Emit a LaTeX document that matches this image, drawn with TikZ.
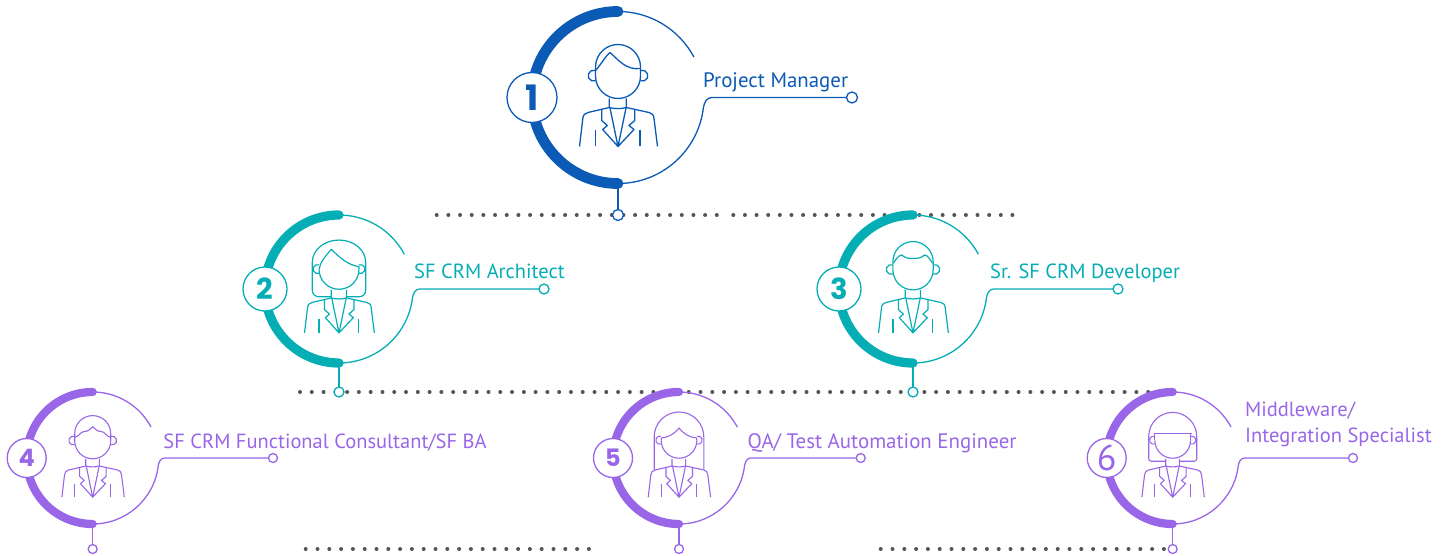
\documentclass[tikz,border=0pt]{standalone}
\usepackage{fontspec}
\setmainfont{PT Sans}
\newfontfamily\digitfont{Poppins}
\usetikzlibrary{calc,positioning}

\definecolor{bluehub}{HTML}{0B5AB5}
\definecolor{tealhub}{HTML}{05AEB5}
\definecolor{purplehub}{HTML}{9966E8}
\definecolor{dotgrey}{HTML}{555555}

\tikzstyle{hub} = [circle, inner sep=0pt, outer sep=0pt]
\tikzstyle{tip} = [draw, circle, fill=white, inner sep=0pt, outer sep=0pt, line width=1.3pt]
\tikzstyle{badge} = [draw, circle, fill=white, inner sep=0pt, outer sep=0pt, line width=1.3pt, align=center]
\tikzstyle{role} = [anchor=base west, inner sep=0pt, align=left, font=\fontsize{20.5}{25}\selectfont]
\tikzstyle{fine} = [line width=1.3pt, line join=round]
\tikzstyle{dot} = [fill=dotgrey]

% thin and thick arcs, stem and leader of one ring
\newcommand{\ringarcs}[3]{
\draw [fine,#3] (#1.north) arc (90:28:#2);
\draw [fine,#3] (#1.south) arc (-90:-7:#2) to[out=82,in=180] ([xshift=1.09*#2]#1.center) -- (#1tip);
\draw [line width=0.125*#2, line cap=round,#3] (#1.north) arc (90:270:#2);
\draw [fine,#3] (#1.south) -- (#1foot);
}

% jacket, lapels and neck of every person
\newcommand{\suit}{
\draw (-8.7,-1) -- (-8.7,-10) .. controls (-3,-11.5) and (3,-11.5) .. (8.3,-10) -- (8.3,-1);
\draw (-38.5,-49) -- (-35.2,-21) .. controls (-34.8,-17) and (-33,-16) .. (-30,-15) -- (-8.7,-10);
\draw (39.5,-49) -- (36,-21) .. controls (35.7,-17) and (34,-16) .. (31,-15) -- (8.3,-10);
\draw (-16.3,-12.5) -- (-16.3,-23) -- (-10.7,-28) -- (-15.3,-32) -- (0,-49) -- (-8,-10.5);
\draw (16.8,-12.5) -- (16.8,-23) -- (11,-28) -- (16,-32) -- (0,-49) -- (8,-10.5);
\draw (-22.3,-33) -- (-22.3,-49);
\draw (22,-33) -- (22,-49);
}
% head with the top closed, for the men
\newcommand{\malehead}{
\draw (-22.5,21.5) -- (-22.5,30.5) arc (180:0:22.5) -- (22.5,21.5) arc (0:-180:22.5);
\draw (-22.5,27) arc (70:290:5.5);
\draw (22.5,27) arc (110:-110:5.5);
}
% chin and ears, for the women
\newcommand{\femalehead}{
\draw (-22.3,22) arc (180:360:22.3);
\draw (-22.3,27) arc (70:290:5);
\draw (22.3,27) arc (110:-110:5);
}

\begin{document}
\begin{tikzpicture}[x=1pt,y=1pt]
\useasboundingbox (0,0) rectangle (1450,555);

% dotted rows
\foreach \i in {0,...,24} \fill [dot] (436.7+\i*11.67,340) circle (2);
\foreach \i in {0,...,24} \fill [dot] (733.3+\i*11.63,340) circle (2);
\foreach \i in {0,...,72} \fill [dot] (300+\i*11.78,163) circle (2);
\foreach \i in {0,...,24} \fill [dot] (305.7+\i*11.8,6) circle (2);
\foreach \i in {0,...,24} \fill [dot] (880.7+\i*11.8,6) circle (2);

\node (manager) [hub, minimum size=172] at (618,457.5) {};
\node (managertip) [xshift=234] at (manager) [tip, minimum size=11, draw=bluehub] {};
\node (managerfoot) [yshift=-117.5] at (manager) [tip, minimum size=11, draw=bluehub] {};
\ringarcs{manager}{86}{bluehub}
\node (managerbadge) at (manager.west) [badge, minimum size=50, draw=bluehub, text=bluehub] {\fontsize{35}{35}\digitfont\bfseries 1};
\node (managerrole) [xshift=85, yshift=9.5] at (manager) [role, text=bluehub, font=\fontsize{20.9}{25}\selectfont] {Project Manager};
\begin{scope}[shift={(manager.center)}, draw=bluehub, line width=1.3pt, line join=round]
\suit
\malehead
\draw (-22.5,27) .. controls (-17,33) and (-12,42) .. (-8,45) .. controls (0,38) and (8,27) .. (22.5,29);
\end{scope}

\node (architect) [hub, minimum size=148] at (339,266) {};
\node (architecttip) [xshift=205] at (architect) [tip, minimum size=10, draw=tealhub] {};
\node (architectfoot) [yshift=-103] at (architect) [tip, minimum size=10, draw=tealhub] {};
\ringarcs{architect}{74}{tealhub}
\node (architectbadge) at (architect.west) [badge, minimum size=44, draw=tealhub, text=tealhub] {\fontsize{29}{29}\digitfont\bfseries 2};
\node (architectrole) [xshift=75, yshift=11] at (architect) [role, text=tealhub] {SF CRM Architect};
\begin{scope}[shift={(architect.center)}, scale=0.895, draw=tealhub, line width=1.2pt, line join=round]
\suit
\femalehead
\draw (-8.7,-8.6) -- (-22.8,-8.6) arc (270:180:7) -- (-29.8,30) arc (180:0:29.8 and 24.7) -- (29.8,-1.6) arc (0:-90:7) -- (8.3,-8.6);
\draw (-22.3,22) .. controls (-21,30) and (-15,37) .. (-8.6,44.3) .. controls (0,36) and (9,27) .. (22.3,25) -- (22.3,22);
\end{scope}

\node (developer) [hub, minimum size=148] at (913,266) {};
\node (developertip) [xshift=205] at (developer) [tip, minimum size=10, draw=tealhub] {};
\node (developerfoot) [yshift=-103] at (developer) [tip, minimum size=10, draw=tealhub] {};
\ringarcs{developer}{74}{tealhub}
\node (developerbadge) at (developer.west) [badge, minimum size=44, draw=tealhub, text=tealhub] {\fontsize{29}{29}\digitfont\bfseries 3};
\node (developerrole) [xshift=77, yshift=11] at (developer) [role, text=tealhub] {Sr. SF CRM Developer};
\begin{scope}[shift={(developer.center)}, scale=0.895, draw=tealhub, line width=1.2pt, line join=round]
\suit
\malehead
\draw (-22,28.6) .. controls (-20,32) and (-16,38) .. (-12.7,38) .. controls (-8,34) and (-4,34) .. (0,34) .. controls (4,34) and (8,34) .. (13,38) .. controls (16,38) and (20,32) .. (22,28.6);
\end{scope}

\node (consultant) [hub, minimum size=132] at (92.7,97) {};
\node (consultanttip) [xshift=180.3] at (consultant) [tip, minimum size=9, draw=purplehub] {};
\node (consultantfoot) [yshift=-91] at (consultant) [tip, minimum size=9, draw=purplehub] {};
\ringarcs{consultant}{66}{purplehub}
\node (consultantbadge) at (consultant.west) [badge, minimum size=39, draw=purplehub, text=purplehub] {\fontsize{24}{24}\digitfont\bfseries 4};
\node (consultantrole) [xshift=70.5, yshift=10] at (consultant) [role, text=purplehub] {SF CRM Functional Consultant/SF BA};
\begin{scope}[shift={(consultant.center)}, scale=0.8, draw=purplehub, line width=1.1pt, line join=round]
\suit
\malehead
\draw (-22,26) .. controls (-17,27) and (-15,33) .. (-11,33) .. controls (-6,33) and (-3,36) .. (0,39) .. controls (3,36) and (6,33) .. (11,33) .. controls (15,33) and (17,27) .. (22,26);
\end{scope}

\node (tester) [hub, minimum size=132] at (679,97) {};
\node (testertip) [xshift=181.7] at (tester) [tip, minimum size=9, draw=purplehub] {};
\node (testerfoot) [yshift=-91] at (tester) [tip, minimum size=9, draw=purplehub] {};
\ringarcs{tester}{66}{purplehub}
\node (testerbadge) at (tester.west) [badge, minimum size=39, draw=purplehub, text=purplehub] {\fontsize{24}{24}\digitfont\bfseries 5};
\node (testerrole) [xshift=68.5, yshift=10] at (tester) [role, text=purplehub, font=\fontsize{20.9}{25}\selectfont] {QA/ Test Automation Engineer};
\begin{scope}[shift={(tester.center)}, scale=0.8, draw=purplehub, line width=1.1pt, line join=round]
\suit
\femalehead
\draw (-31,-14.6) -- (-31,26.5) arc (180:0:31) -- (31,-14.6);
\draw (-22.3,22) -- (-22,25) .. controls (-12,26) and (-5,31) .. (0,37.5) .. controls (5,31) and (12,26) .. (22,25) -- (22.3,22);
\end{scope}

\node (integrator) [hub, minimum size=132] at (1172.7,97) {};
\node (integratortip) [xshift=180.3] at (integrator) [tip, minimum size=9, draw=purplehub] {};
\node (integratorfoot) [yshift=-91] at (integrator) [tip, minimum size=9, draw=purplehub] {};
\ringarcs{integrator}{66}{purplehub}
\node (integratorbadge) at (integrator.west) [badge, minimum size=39, draw=purplehub, text=purplehub] {\fontsize{36}{36}\selectfont 6};
\node (integratorrole) [xshift=72.3, yshift=16] at (integrator) [role, text=purplehub, font=\fontsize{20.5}{25.5}\selectfont] {Middleware/\\Integration Specialist};
\begin{scope}[shift={(integrator.center)}, scale=0.8, draw=purplehub, line width=1.1pt, line join=round]
\suit
\femalehead
\draw (-8.7,-4) -- (-27,-4) arc (270:180:3) -- (-30,27) arc (180:0:30) -- (30,-1) arc (0:-90:3) -- (8.3,-4);
\draw (-23,31) -- (23.7,31);
\draw (-22.3,22) -- (-22.3,31);
\draw (22.3,22) -- (22.3,31);
\end{scope}
\end{tikzpicture}
\end{document}
